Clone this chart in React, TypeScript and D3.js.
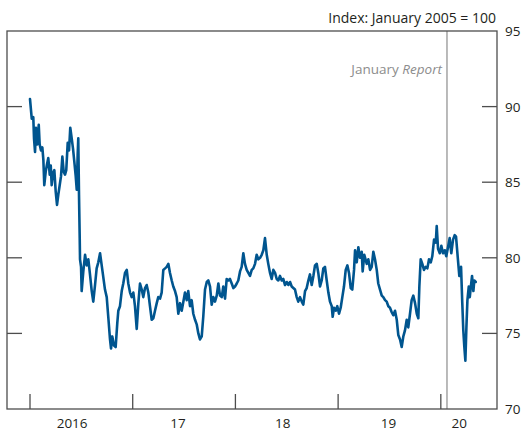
import { useEffect, useRef } from "react";
import * as d3 from "d3";

// decimal years, roughly weekly
const dates = [
  2016.000, 2016.017, 2016.032, 2016.039, 2016.049, 2016.058, 2016.071, 2016.085, 2016.094, 2016.107,
  2016.120, 2016.130, 2016.139, 2016.153, 2016.166, 2016.178, 2016.192, 2016.202, 2016.211, 2016.224,
  2016.237, 2016.250, 2016.263, 2016.276, 2016.289, 2016.302, 2016.315, 2016.328, 2016.341, 2016.353,
  2016.367, 2016.380, 2016.392, 2016.406, 2016.419, 2016.431, 2016.445, 2016.455, 2016.464, 2016.470,
  2016.477, 2016.484, 2016.487, 2016.497, 2016.503, 2016.519, 2016.536, 2016.552, 2016.568, 2016.584,
  2016.601, 2016.616, 2016.633, 2016.649, 2016.665, 2016.682,
  2016.708, 2016.730, 2016.747, 2016.762, 2016.779, 2016.789, 2016.801, 2016.818, 2016.834, 2016.850,
  2016.860, 2016.876, 2016.893, 2016.908, 2016.925, 2016.942, 2016.957, 2016.974, 2016.990, 2017.006,
  2017.022, 2017.039, 2017.055, 2017.071, 2017.088, 2017.103, 2017.120, 2017.136, 2017.152, 2017.168,
  2017.185, 2017.201, 2017.217, 2017.234, 2017.249, 2017.266, 2017.282, 2017.298, 2017.315, 2017.331,
  2017.347, 2017.363, 2017.380, 2017.395, 2017.412, 2017.428, 2017.444, 2017.461, 2017.477, 2017.493,
  2017.509, 2017.526, 2017.541, 2017.558, 2017.574, 2017.590, 2017.607, 2017.623, 2017.639, 2017.655,
  2017.672, 2017.687, 2017.704, 2017.721, 2017.736, 2017.753, 2017.769, 2017.785, 2017.801, 2017.818,
  2017.834, 2017.850, 2017.867, 2017.882, 2017.899, 2017.915, 2017.931, 2017.947, 2017.964, 2017.980,
  2017.996, 2018.013, 2018.028, 2018.045, 2018.061, 2018.077, 2018.093, 2018.110, 2018.126, 2018.142,
  2018.159, 2018.174, 2018.191, 2018.207, 2018.223, 2018.240, 2018.256, 2018.272, 2018.288, 2018.305,
  2018.320, 2018.337, 2018.353, 2018.369, 2018.386, 2018.402, 2018.418, 2018.434, 2018.451, 2018.466,
  2018.483, 2018.500, 2018.515, 2018.532, 2018.548, 2018.564, 2018.580, 2018.597, 2018.612, 2018.629,
  2018.646, 2018.661, 2018.678, 2018.694, 2018.710, 2018.726, 2018.743, 2018.759, 2018.775, 2018.792,
  2018.807, 2018.824, 2018.840, 2018.856, 2018.872, 2018.889, 2018.905, 2018.921, 2018.938, 2018.947,
  2018.960, 2018.977, 2018.992, 2019.009, 2019.025, 2019.041, 2019.057, 2019.074, 2019.090, 2019.106,
  2019.123, 2019.138, 2019.155, 2019.165, 2019.181, 2019.197, 2019.213, 2019.230, 2019.239, 2019.255,
  2019.279, 2019.294, 2019.311, 2019.327, 2019.343, 2019.359, 2019.376, 2019.391, 2019.408, 2019.425,
  2019.440, 2019.457, 2019.473, 2019.489, 2019.505, 2019.522, 2019.537, 2019.554, 2019.571, 2019.586,
  2019.603, 2019.619, 2019.635, 2019.651, 2019.668, 2019.683, 2019.700, 2019.716, 2019.732, 2019.749,
  2019.766, 2019.781, 2019.791, 2019.804, 2019.820, 2019.836, 2019.853, 2019.869, 2019.885, 2019.902,
  2019.917, 2019.934, 2019.951, 2019.960, 2019.973, 2019.990, 2020.005, 2020.021, 2020.038, 2020.053,
  2020.070, 2020.086, 2020.102, 2020.119, 2020.135, 2020.148, 2020.164, 2020.180, 2020.197, 2020.209,
  2020.219, 2020.229, 2020.239, 2020.249, 2020.259, 2020.272, 2020.282, 2020.294, 2020.304, 2020.317,
  2020.326, 2020.340,
];

const index = [
  90.5, 89.2, 89.3, 87.9, 87.0, 88.6, 87.5, 88.8, 87.5, 87.1,
  87.3, 86.5, 84.8, 85.7, 86.2, 86.6, 85.5, 86.1, 84.8, 85.6,
  85.8, 84.4, 83.5, 84.2, 84.8, 85.4, 86.7, 85.7, 85.5, 85.8,
  87.6, 87.1, 88.6, 87.9, 87.2, 86.4, 85.4, 84.5, 86.8, 87.9,
  84.2, 81.3, 79.9, 79.4, 77.8, 79.1, 80.2, 79.5, 79.9, 78.9,
  77.8, 77.1, 78.2, 79.3, 79.7, 80.3,
  79.0, 77.9, 77.4, 76.1, 74.6, 74.0, 74.8, 74.2, 74.1, 75.7,
  76.5, 76.8, 77.8, 78.3, 79.0, 79.2, 78.3, 77.7, 77.4, 77.7,
  76.8, 75.3, 77.0, 78.3, 77.9, 77.4, 78.0, 78.2, 77.7, 76.8,
  75.9, 76.0, 76.5, 77.0, 77.4, 77.3, 77.7, 79.2, 79.3, 79.4,
  79.6, 79.0, 78.5, 78.1, 77.8, 77.4, 76.3, 77.0, 76.5, 77.1,
  77.7, 77.2, 77.8, 76.8, 77.2, 76.3, 75.9, 75.6, 75.0, 74.6,
  74.8, 76.1, 77.9, 78.4, 78.5, 78.1, 76.9, 77.4, 77.1, 77.5,
  78.3, 77.5, 77.4, 78.1, 77.3, 78.6, 78.5, 78.6, 78.3, 78.0,
  78.1, 78.3, 78.5, 79.1, 79.4, 80.3, 79.6, 79.2, 79.0, 78.8,
  79.2, 79.3, 79.6, 80.2, 79.9, 80.0, 80.2, 80.5, 81.3, 80.2,
  79.6, 79.0, 78.6, 79.2, 79.0, 78.6, 78.5, 78.8, 78.5, 78.6,
  78.2, 78.4, 78.2, 78.4, 78.1, 78.0, 77.9, 77.4, 77.1, 77.4,
  77.1, 76.9, 77.8, 78.0, 78.5, 78.9, 78.2, 78.8, 79.5, 79.6,
  79.0, 78.1, 78.5, 79.3, 79.4, 78.5, 77.7, 77.1, 76.8, 76.1,
  76.7, 76.5, 76.8, 76.3, 76.7, 77.4, 78.1, 79.2, 79.5, 79.0,
  78.0, 77.9, 79.2, 80.5, 79.7, 80.7, 80.0, 80.4, 79.1, 80.2,
  79.6, 79.9, 79.2, 79.4, 80.4, 79.9, 79.2, 78.3, 77.9, 77.5,
  77.4, 77.2, 77.1, 76.8, 76.7, 76.4, 76.2, 76.5, 75.9, 74.9,
  74.6, 74.1, 74.8, 75.2, 75.9, 75.4, 76.3, 77.2, 77.5, 77.0,
  76.3, 76.0, 78.1, 79.9, 79.6, 79.2, 79.4, 79.3, 79.9, 79.7,
  80.1, 81.2, 81.0, 82.1, 80.6, 80.3, 80.8, 80.3, 80.5, 80.1,
  80.7, 81.3, 80.3, 81.2, 81.5, 81.4, 80.1, 78.8, 79.4, 77.0,
  75.2, 74.1, 73.2, 75.4, 77.2, 78.1, 77.4, 78.2, 78.8, 77.8,
  78.5, 78.4,
];

const yTicks = [70, 75, 80, 85, 90, 95];
const yearTicks = [2016, 2017, 2018, 2019, 2020];
const yearLabels = ["2016", "17", "18", "19", "20"];
const yearLabelAt = [2016.41, 2017.44, 2018.46, 2019.49, 2020.18];
const reportDate = 2020.06;

export default function App() {
  const ref = useRef<SVGSVGElement>(null);

  useEffect(() => {
    const svg = d3.select(ref.current);
    svg.selectAll("*").remove();

    const width = 524;
    const height = 432;
    const margin = { top: 31, right: 27, bottom: 23, left: 7 };
    const font = "'Open Sans', sans-serif";
    const ink = "#231f20";

    svg.attr("width", width).attr("height", height);

    const x = d3.scaleLinear()
      .domain([2015.776, 2020.547])
      .range([margin.left, width - margin.right]);

    const y = d3.scaleLinear()
      .domain([70, 95])
      .range([height - margin.bottom, margin.top]);

    const [x0, x1] = x.range();
    const [y0, y1] = y.range();
    const tickLen = 15;

    // report marker
    svg.append("line")
      .attr("x1", x(reportDate)).attr("x2", x(reportDate))
      .attr("y1", y1).attr("y2", y0)
      .attr("stroke", "#a3a3a3")
      .attr("stroke-width", 1.5);

    const note = svg.append("text")
      .attr("x", x(reportDate) - 5)
      .attr("y", 74)
      .attr("text-anchor", "end")
      .attr("font-family", font)
      .attr("font-size", 13.5)
      .attr("fill", "#8c8c8c");
    note.append("tspan").text("January ");
    note.append("tspan").attr("font-style", "italic").text("Report");

    // frame
    svg.append("rect")
      .attr("x", x0).attr("y", y1)
      .attr("width", x1 - x0).attr("height", y0 - y1)
      .attr("fill", "none")
      .attr("stroke", "#4d4d4d")
      .attr("stroke-width", 1.3);

    // y ticks on both sides
    yTicks.slice(1, -1).forEach(v => {
      svg.append("line")
        .attr("x1", x0).attr("x2", x0 + tickLen)
        .attr("y1", y(v)).attr("y2", y(v))
        .attr("stroke", "#4d4d4d").attr("stroke-width", 1.3);
      svg.append("line")
        .attr("x1", x1 - tickLen).attr("x2", x1)
        .attr("y1", y(v)).attr("y2", y(v))
        .attr("stroke", "#4d4d4d").attr("stroke-width", 1.3);
    });

    svg.selectAll(".ylab")
      .data(yTicks)
      .join("text")
      .attr("x", x1 + 8)
      .attr("y", d => y(d) + 5)
      .attr("font-family", font)
      .attr("font-size", 13.5)
      .attr("fill", ink)
      .text(d => d);

    // year ticks
    yearTicks.forEach(t => {
      svg.append("line")
        .attr("x1", x(t)).attr("x2", x(t))
        .attr("y1", y0 - tickLen).attr("y2", y0)
        .attr("stroke", "#4d4d4d").attr("stroke-width", 1.3);
    });

    svg.selectAll(".xlab")
      .data(yearLabels)
      .join("text")
      .attr("x", (d, i) => x(yearLabelAt[i]))
      .attr("y", y0 + 19)
      .attr("text-anchor", "middle")
      .attr("font-family", font)
      .attr("font-size", 13.5)
      .attr("fill", ink)
      .text(d => d);

    svg.append("text")
      .attr("x", x1 - 1)
      .attr("y", 23)
      .attr("text-anchor", "end")
      .attr("font-family", font)
      .attr("font-size", 14)
      .attr("fill", ink)
      .text("Index: January 2005 = 100");

    const line = d3.line<number>()
      .x((d, i) => x(dates[i]))
      .y(d => y(d));

    svg.append("path")
      .datum(index)
      .attr("d", line)
      .attr("fill", "none")
      .attr("stroke", "#00558f")
      .attr("stroke-width", 2.6)
      .attr("stroke-linejoin", "round")
      .attr("stroke-linecap", "round");
  }, []);

  return (
    <div style={{ position: "absolute", left: 0, top: 0 }}>
      <svg ref={ref}></svg>
    </div>
  );
}
